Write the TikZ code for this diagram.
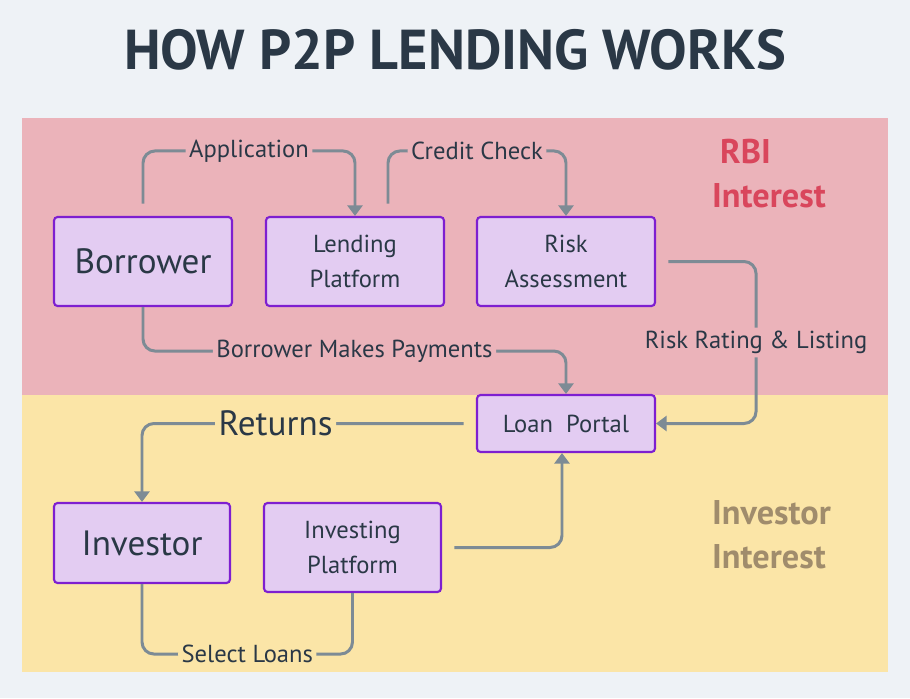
\documentclass[tikz,border=0pt]{standalone}
\usepackage{fontspec}
\setmainfont{PT Sans}
\usetikzlibrary{arrows.meta,positioning}

\definecolor{bgcol}{HTML}{EEF2F6}
\definecolor{rbizone}{HTML}{EBB3BA}
\definecolor{invzone}{HTML}{FBE5A7}
\definecolor{boxfill}{HTML}{E3CCF2}
\definecolor{boxline}{HTML}{7E1FD0}
\definecolor{linkcol}{HTML}{7D8B95}
\definecolor{inkcol}{HTML}{2A3846}
\definecolor{rbired}{HTML}{D9465C}
\definecolor{invbrown}{HTML}{A08C6C}

\begin{document}
\begin{tikzpicture}[
    x=0.02cm, y=-0.02cm,
    >={Triangle[length=6pt,width=8.5pt]},
    party/.style={
      draw=boxline,
      line width=1.2pt,
      rounded corners=2pt,
      fill=boxfill,
      align=center,
      text=inkcol,
      minimum width=3.56cm,
      minimum height=1.78cm,
      inner sep=0pt,
      font=\fontsize{14}{20}\selectfont
    },
    bigparty/.style={
      party,
      font=\fontsize{20}{22}\selectfont
    },
    flow/.style={line width=1.7pt, draw=linkcol, rounded corners=0.24cm},
    lbl/.style={fill=rbizone, text=inkcol, inner sep=2pt,
      font=\fontsize{14}{16}\selectfont},
    zonetext/.style={font=\bfseries\fontsize{19.5}{25}\selectfont, align=left, anchor=west}
  ]
    % background and zones
    \path[fill=bgcol] (0,0) rectangle (910,698);
    \fill[rbizone] (22,118) rectangle (888,395);
    \fill[invzone] (22,395) rectangle (888,672);

    \node[font=\bfseries\fontsize{32}{36}\selectfont, text=inkcol] (title) at (455,50) {HOW P2P LENDING WORKS};

    \node[zonetext, text=rbired] (rbi) at (706,174) {\hspace*{0.16cm}RBI\\Interest};
    \node[zonetext, text=invbrown] (invint) at (706,535) {Investor\\Interest};

    % parties
    \node[bigparty] (borrower) at (143,261.5) {Borrower};
    \node[party] (lending) at (355,261.5) {Lending\\Platform};
    \node[party] (risk) at (566,261.5) {Risk\\Assessment};
    \node[party, minimum height=1.14cm] (portal) at (566,423.5) {Loan\ \ Portal};
    \node[bigparty, minimum width=3.52cm, minimum height=1.6cm] (investor) at (142,543) {Investor};
    \node[party, minimum width=3.54cm] (investing) at (352.5,547.5) {Investing\\Platform};

    % links
    \draw[flow, ->, shorten <=7pt] (borrower.north) -- ++(0,-65)
      -| node[lbl, pos=0.25] {Application} (lending.north);
    \draw[flow, ->, shorten <=7pt] ([xshift=0.66cm]lending.north) -- ++(0,-65)
      -| node[lbl, pos=0.25] {Credit Check} (risk.north);
    \draw[flow, ->, shorten <=7pt] (risk.east) -- ++(100,0)
      |- node[lbl, pos=0.25] {Risk Rating \& Listing} (portal.east);
    \draw[flow, ->] (borrower.south) -- ++(0,44)
      -| node[lbl, pos=0.25] {Borrower Makes Payments} (portal.north);
    \draw[flow, ->, shorten <=7pt] (portal.west)
      -| node[lbl, fill=invzone, pos=0.3, font=\fontsize{20}{22}\selectfont] {Returns} (investor.north);
    \draw[flow, ->, shorten <=7pt] (investing.east)
      -| ([xshift=-0.08cm]portal.south);
    \draw[flow] (investor.south) -- ++(0,70)
      -| node[lbl, fill=invzone, pos=0.25] {Select Loans} (investing.south);
\end{tikzpicture}
\end{document}
